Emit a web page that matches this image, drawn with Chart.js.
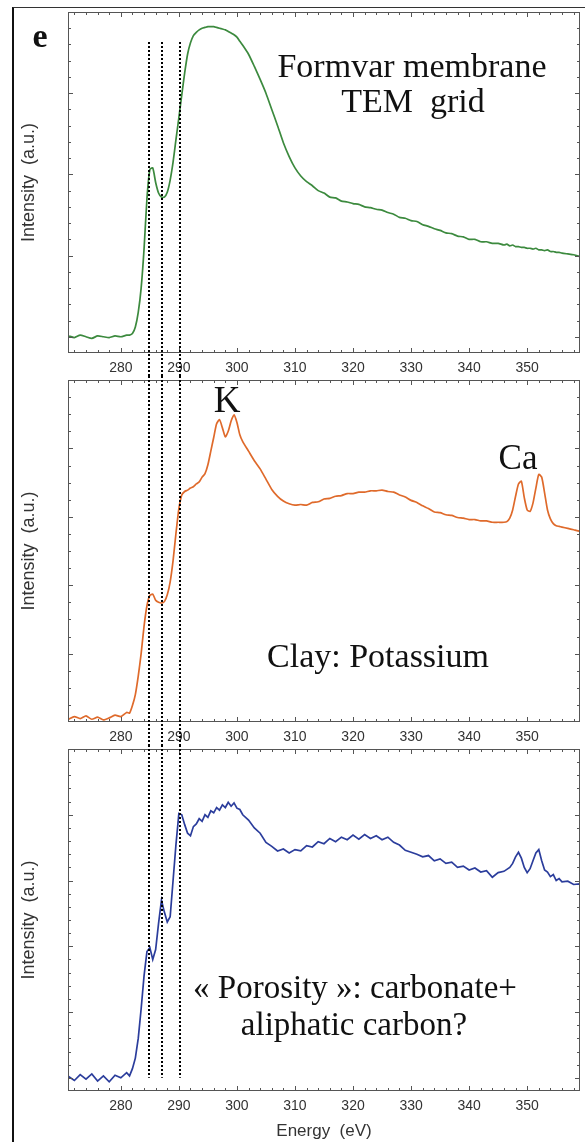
<!DOCTYPE html>
<html>
<head>
<meta charset="utf-8">
<script src="https://cdn.jsdelivr.net/npm/chart.js@4.4.0/dist/chart.umd.min.js"></script>
<style>
  body { margin: 0; background: #fff; }
  #fig { position: relative; width: 585px; height: 1142px; overflow: hidden; }
  #frame { position: absolute; left: 12px; top: 7px; width: 700px; height: 1300px;
           border-left: 2px solid #111; border-top: 1px solid #333; }
  canvas { position: absolute; left: 0; }
</style>
</head>
<body>
<div id="fig">
  <div id="frame"></div>
  <canvas id="c1" width="585" height="376" style="top:0px"></canvas>
  <canvas id="c2" width="585" height="369" style="top:376px"></canvas>
  <canvas id="c3" width="585" height="397" style="top:745px"></canvas>
</div>
<script>
// energy grid (eV), denser around the C edge and the Ca L edge
const energy = [271, 272, 273, 274, 275, 276, 277, 278, 279, 280, 281,
  281.5, 282, 282.5, 283, 283.5, 284, 284.5, 285, 285.5, 286,
  286.5, 287, 287.5, 288, 288.5, 289, 289.5, 290, 290.5, 291,
  291.5, 292, 292.5, 293, 293.5, 294, 294.5, 295, 295.5, 296,
  296.5, 297, 297.5, 298, 298.5, 299, 299.5, 300, 300.5, 301,
  302, 303, 304, 305, 306, 307, 308, 309, 310,
  311, 312, 313, 314, 315, 316, 317, 318, 319, 320,
  321, 322, 323, 324, 325, 326, 327, 328, 329, 330,
  331, 332, 333, 334, 335, 336, 337, 338, 339, 340,
  341, 342, 343, 344, 345, 346,
  346.5, 347, 347.5, 348, 348.5, 349, 349.5, 350, 350.5, 351,
  351.5, 352, 352.5, 353, 353.5, 354, 354.5, 355, 355.5, 356,
  357, 358, 359, 360];

// Formvar membrane TEM grid (green)
const formvar = [0.01, -0.01, 0.02, 0.0, -0.02, 0.01, 0.0, -0.01, 0.01, 0.0, 0.02,
  0.02, 0.04, 0.12, 0.3, 0.6, 1.08, 1.7, 2.06, 2.08, 1.9,
  1.77, 1.72, 1.72, 1.78, 1.93, 2.15, 2.43, 2.7, 2.98, 3.25,
  3.48, 3.62, 3.71, 3.75, 3.78, 3.80, 3.81, 3.82, 3.82, 3.82,
  3.81, 3.80, 3.79, 3.78, 3.76, 3.74, 3.72, 3.69, 3.64, 3.59,
  3.48, 3.33, 3.17, 3.0, 2.8, 2.6, 2.39, 2.22, 2.08,
  1.98, 1.91, 1.86, 1.80, 1.77, 1.72, 1.71, 1.67, 1.66, 1.64,
  1.63, 1.60, 1.59, 1.57, 1.56, 1.53, 1.51, 1.47, 1.46, 1.43,
  1.42, 1.38, 1.36, 1.33, 1.31, 1.28, 1.27, 1.24, 1.23, 1.20,
  1.20, 1.17, 1.17, 1.15, 1.15, 1.13,
  1.14, 1.12, 1.13, 1.11, 1.11, 1.10, 1.10, 1.09, 1.09, 1.08,
  1.09, 1.07, 1.07, 1.06, 1.07, 1.05, 1.05, 1.04, 1.04, 1.03,
  1.02, 1.01, 0.99, 0.98];

// Clay: Potassium (orange)
const clay = [0.04, 0.08, 0.05, 0.09, 0.04, 0.07, 0.03, 0.06, 0.1, 0.08, 0.14,
  0.13, 0.24, 0.4, 0.67, 1.0, 1.4, 1.7, 1.85, 1.87, 1.78,
  1.75, 1.74, 1.76, 1.86, 2.05, 2.36, 2.76, 3.12, 3.32, 3.37,
  3.39, 3.42, 3.44, 3.48, 3.51, 3.58, 3.63, 3.76, 3.96, 4.16,
  4.36, 4.42, 4.3, 4.17, 4.25, 4.4, 4.49, 4.38, 4.2, 4.1,
  3.96, 3.82, 3.7, 3.55, 3.4, 3.3, 3.23, 3.19, 3.17,
  3.18, 3.17, 3.21, 3.22, 3.26, 3.27, 3.30, 3.31, 3.34, 3.34,
  3.36, 3.36, 3.38, 3.38, 3.39, 3.37, 3.36, 3.32, 3.29, 3.24,
  3.21, 3.16, 3.12, 3.07, 3.06, 3.03, 3.02, 2.99, 2.98, 2.96,
  2.96, 2.94, 2.94, 2.92, 2.92, 2.92,
  2.93, 2.98, 3.1, 3.3, 3.48, 3.52, 3.28, 3.1, 3.08, 3.2,
  3.42, 3.62, 3.58, 3.35, 3.1, 2.97, 2.9, 2.87, 2.86, 2.85,
  2.83, 2.81, 2.79, 2.78];

// « Porosity »: carbonate + aliphatic carbon (blue)
const porosity = [0.02, -0.04, 0.05, -0.02, 0.06, -0.05, 0.03, -0.06, 0.04, 0.0, 0.08,
  0.03, 0.14, 0.3, 0.6, 1.05, 1.55, 1.92, 1.98, 1.8, 1.95,
  2.35, 2.7, 2.52, 2.37, 2.45, 3.0, 3.55, 4.02, 4.0, 3.85,
  3.72, 3.68, 3.82, 3.86, 3.94, 3.9, 4.0, 3.96, 4.06, 4.03,
  4.11, 4.07, 4.15, 4.11, 4.19, 4.13, 4.18, 4.1, 4.08, 4.0,
  3.92, 3.8, 3.72, 3.58, 3.52, 3.45, 3.48, 3.42, 3.47,
  3.45, 3.53, 3.51, 3.59, 3.56, 3.64, 3.59, 3.66, 3.62, 3.69,
  3.63, 3.7, 3.64, 3.68, 3.62, 3.66, 3.58, 3.54, 3.46, 3.43,
  3.4, 3.36, 3.38, 3.3, 3.33, 3.26, 3.28, 3.2, 3.22, 3.16,
  3.19, 3.13, 3.15, 3.05, 3.12, 3.14,
  3.17, 3.2, 3.26, 3.36, 3.43, 3.34, 3.2, 3.12, 3.18, 3.3,
  3.42, 3.47, 3.3, 3.16, 3.13, 3.06, 3.09, 3.0, 3.03, 2.98,
  2.99, 2.94, 2.95, 2.92];

const energyTicks = [280, 290, 300, 310, 320, 330, 340, 350];
const edgeLines = [284.8, 287.1, 290.2];   // dotted guides
const formvarTicks = [0, 1, 2, 3, 4];
const clayTicks = [0, 1, 2, 3, 4, 5];
const porosityTicks = [0, 1, 2, 3, 4, 5];

const sans = 'Liberation Sans, Arial, sans-serif';
const serif = '"Liberation Serif", "Times New Roman", serif';

// box around the plot with inward ticks on all four sides
const boxTicks = {
  id: 'boxTicks',
  afterDraw(chart, args, o) {
    const { ctx, chartArea: a } = chart;
    const x = chart.scales.x, y = chart.scales.y;
    ctx.save();
    ctx.strokeStyle = '#555';
    ctx.lineWidth = 1;
    ctx.strokeRect(a.left + 0.5, a.top + 0.5, a.right - a.left - 1, a.bottom - a.top - 1);
    ctx.beginPath();
    for (let v = 272; v < x.max; v += 2) {
      const px = Math.round(x.getPixelForValue(v)) + 0.5;
      const len = v % 10 === 0 ? 5 : 3;
      ctx.moveTo(px, a.bottom); ctx.lineTo(px, a.bottom - len);
      ctx.moveTo(px, a.top); ctx.lineTo(px, a.top + len);
    }
    for (let k = 1; ; k++) {
      const v = y.min + k * o.minor;
      if (v >= y.max - 1e-6) break;
      const py = Math.round(y.getPixelForValue(v)) + 0.5;
      const major = o.major.some(t => Math.abs(t - v) < 1e-6);
      const len = major ? 5 : 3;
      ctx.moveTo(a.left, py); ctx.lineTo(a.left + len, py);
      ctx.moveTo(a.right, py); ctx.lineTo(a.right - len, py);
    }
    ctx.stroke();
    ctx.restore();
  }
};

// dotted vertical guides that run through all three panels
const edgeGuides = {
  id: 'edgeGuides',
  afterDraw(chart, args, o) {
    const { ctx } = chart;
    const x = chart.scales.x, y = chart.scales.y;
    const top = o.from == null ? 0 : y.getPixelForValue(o.from);
    const bottom = o.to == null ? chart.height : y.getPixelForValue(o.to);
    ctx.save();
    ctx.strokeStyle = '#000';
    ctx.lineWidth = 2;
    ctx.setLineDash([2, 2]);
    ctx.beginPath();
    edgeLines.forEach(e => {
      const px = Math.round(x.getPixelForValue(e));
      ctx.moveTo(px, top); ctx.lineTo(px, bottom);
    });
    ctx.stroke();
    ctx.restore();
  }
};

const notes = {
  id: 'notes',
  afterDraw(chart, args, o) {
    const { ctx } = chart;
    ctx.save();
    ctx.fillStyle = '#111';
    ctx.textAlign = 'center';
    ctx.textBaseline = 'alphabetic';
    o.items.forEach(n => {
      ctx.font = (n.bold ? 'bold ' : '') + n.size + 'px ' + serif;
      ctx.fillText(n.text, n.x, n.y);
    });
    ctx.restore();
  }
};

function panel(id, values, color, yMin, yMax, major, minor, o) {
  return new Chart(document.getElementById(id), {
    type: 'line',
    data: {
      datasets: [{
        data: energy.map((e, i) => ({ x: e, y: values[i] })),
        borderColor: color,
        borderWidth: 1.7,
        pointRadius: 0,
        tension: o.tension,
        fill: false
      }]
    },
    options: {
      responsive: false,
      animation: false,
      events: [],
      layout: { padding: { top: o.padTop, right: 5, left: 0, bottom: 0 } },
      plugins: {
        legend: { display: false },
        tooltip: { enabled: false },
        boxTicks: { major: major, minor: minor },
        edgeGuides: { from: o.guideFrom, to: o.guideTo },
        notes: { items: o.notes }
      },
      scales: {
        x: {
          type: 'linear', min: 270.9, max: 359.1,
          afterBuildTicks: s => { s.ticks = energyTicks.map(v => ({ value: v })); },
          afterFit: s => { s.height = o.xHeight; },
          grid: { display: false, drawTicks: false },
          border: { display: false },
          ticks: { padding: 7, color: '#333', autoSkip: false, maxRotation: 0,
                   font: { family: sans, size: 14 } },
          title: { display: !!o.xTitle, text: o.xTitle || '', color: '#333', padding: 0,
                   font: { family: sans, size: 17 } }
        },
        y: {
          type: 'linear', min: yMin, max: yMax,
          afterFit: s => { s.width = 68; },
          grid: { display: false, drawTicks: false },
          border: { display: false },
          ticks: { display: false },
          title: { display: true, text: 'Intensity  (a.u.)', color: '#333',
                   padding: { top: 18, bottom: 0 },
                   font: { family: sans, size: 18 } }
        }
      }
    },
    plugins: [boxTicks, edgeGuides, notes]
  });
}

panel('c1', formvar, '#3c8a3e', -0.2, 4, formvarTicks, 0.2, {
  padTop: 12, xHeight: 23, tension: 0.2, guideFrom: 3.63, guideTo: null,
  notes: [
    { text: 'e', x: 40, y: 47, size: 34, bold: true },
    { text: 'Formvar membrane', x: 412, y: 77, size: 34 },
    { text: 'TEM  grid', x: 413, y: 112, size: 34 }
  ]
});

panel('c2', clay, '#df6a2b', 0, 5, clayTicks, 0.25, {
  padTop: 4, xHeight: 23, tension: 0.2, guideFrom: null, guideTo: null,
  notes: [
    { text: 'K', x: 227, y: 36, size: 37 },
    { text: 'Ca', x: 518, y: 93, size: 35 },
    { text: 'Clay: Potassium', x: 378, y: 291, size: 34 }
  ]
});

panel('c3', porosity, '#2b3d9c', -0.2, 5, porosityTicks, 0.2, {
  padTop: 4, xHeight: 51, tension: 0, guideFrom: null, guideTo: 0,
  xTitle: 'Energy  (eV)',
  notes: [
    { text: '\u00ab Porosity \u00bb: carbonate+', x: 355, y: 253, size: 33 },
    { text: 'aliphatic carbon?', x: 354, y: 290, size: 33 }
  ]
});
</script>
</body>
</html>
